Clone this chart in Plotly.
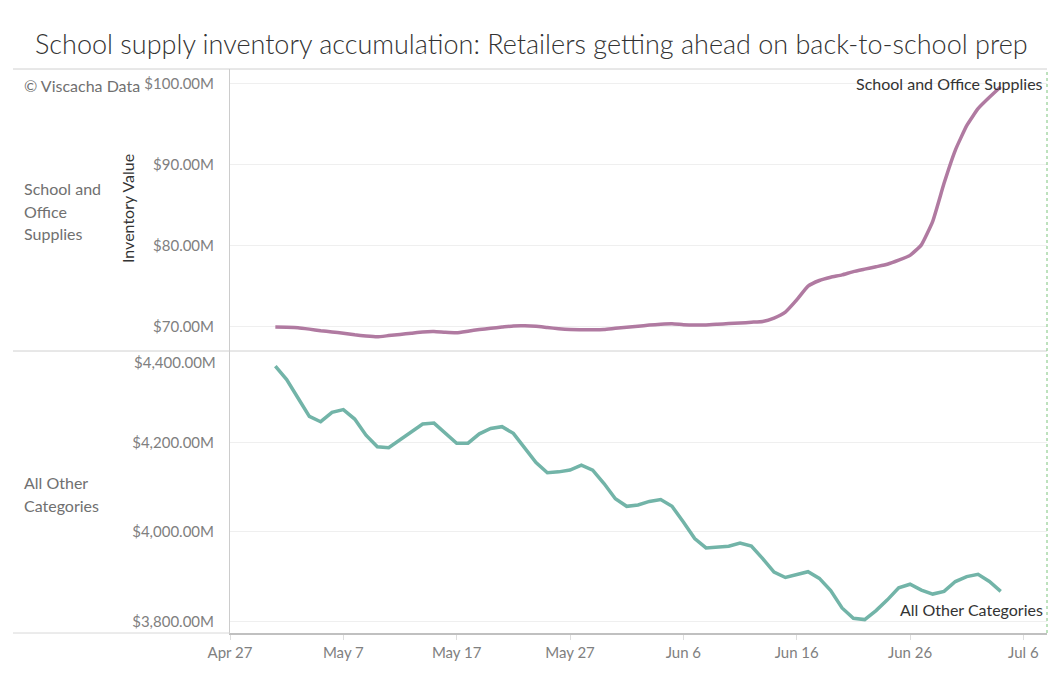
import pandas as pd
import plotly.graph_objects as go
from plotly.subplots import make_subplots

# 日次データ (May 1 - Jul 4), 単位: 百万ドル
start_date = "2025-05-01"
end_date = "2025-07-04"
school_office = [
    69.95, 69.93, 69.88, 69.70, 69.50, 69.35, 69.20, 69.00, 68.85, 68.75,
    68.90, 69.05, 69.20, 69.35, 69.40, 69.30, 69.25, 69.45, 69.65, 69.80,
    69.95, 70.10, 70.12, 70.05, 69.90, 69.75, 69.65, 69.63, 69.62, 69.65,
    69.80, 69.92, 70.05, 70.20, 70.30, 70.35, 70.25, 70.20, 70.22, 70.30,
    70.38, 70.45, 70.55, 70.65, 71.07, 71.80, 73.30, 75.00, 75.70, 76.10,
    76.40, 76.80, 77.10, 77.40, 77.70, 78.20, 78.80, 80.10, 83.00, 87.70,
    91.80, 94.80, 96.90, 98.30, 99.60,
]
all_other = [
    4370, 4340, 4299, 4258, 4246, 4267, 4273, 4252, 4216, 4190,
    4188, 4205, 4224, 4241, 4243, 4220, 4198, 4198, 4219, 4231,
    4235, 4220, 4187, 4155, 4132, 4134, 4138, 4149, 4138, 4108,
    4074, 4057, 4060, 4068, 4072, 4057, 4022, 3985, 3964, 3966,
    3968, 3975, 3968, 3940, 3910, 3898, 3904, 3911, 3896, 3869,
    3830, 3807, 3804, 3824, 3848, 3875, 3883, 3870, 3861, 3867,
    3889, 3900, 3905, 3889, 3867,
]
top_ticks = [70, 80, 90, 100]
bottom_ticks = [3800, 4000, 4200, 4400]
x_range = ["2025-04-27", "2025-07-08 02:00"]
header_top = ["School and", "Office", "Supplies"]
header_bottom = ["All Other", "Categories"]
series_names = ["School and Office Supplies", "All Other Categories"]

PURPLE = "#B07AA1"
TEAL = "#72B4A8"
FONT = "Lato"

# ページ(body)の余白8pxを考慮して配置
W, H = 1061, 686
OFF = 8
L, R, T, B = 230, 14, 69, 53
PW, PH = W - L - R, H - T - B


def px_x(x):
    # 画面ピクセル -> paper座標 (横)
    return (x - L) / PW


def px_y(y):
    # 画面ピクセル -> paper座標 (縦)
    return (H - B - y) / PH


def money(v):
    return "${:,.2f}M".format(v)


dates = pd.date_range(start_date, end_date, freq="D")

fig = make_subplots(rows=2, cols=1, shared_xaxes=True, vertical_spacing=0)
fig.add_trace(go.Scatter(
    x=dates, y=school_office, mode="lines", name=series_names[0],
    line=dict(color=PURPLE, width=3.5, shape="spline", smoothing=0.4),
), row=1, col=1)
fig.add_trace(go.Scatter(
    x=dates, y=all_other, mode="lines", name=series_names[1],
    line=dict(color=TEAL, width=3.5),
), row=2, col=1)

tick_font = dict(family=FONT, size=15, color="#808080")

fig.update_xaxes(
    range=x_range, type="date",
    tick0="2025-04-27", dtick=10 * 86400000, tickformat="%b %-d",
    showgrid=False, zeroline=False, tickfont=tick_font,
)
fig.update_xaxes(showticklabels=False, ticks="", showline=False, row=1, col=1)
fig.update_xaxes(
    ticks="outside", ticklen=5, tickcolor="#dddddd",
    showline=True, linecolor="#c0c0c0", linewidth=2, row=2, col=1,
)

fig.update_yaxes(
    range=[67.0, 101.8], tickvals=top_ticks,
    ticktext=[money(v) for v in top_ticks],
    row=1, col=1,
)
fig.update_yaxes(
    range=[3774, 4404], tickvals=bottom_ticks[:-1],
    ticktext=[money(v) for v in bottom_ticks[:-1]],
    row=2, col=1,
)
fig.update_yaxes(
    showgrid=True, gridcolor="#efefef", gridwidth=1, zeroline=False,
    showline=True, linecolor="#cccccc", linewidth=1,
    ticks="", ticklabelstandoff=12, tickfont=tick_font,
)

annotations = []
# 下段の一番上のラベルは枠内に収めるため少し下げる
annotations.append(dict(
    x=0, xref="paper", y=bottom_ticks[-1], yref="y2",
    text=money(bottom_ticks[-1]), showarrow=False,
    xanchor="right", yanchor="middle", xshift=-12, yshift=-9,
    font=tick_font,
))
annotations.append(dict(
    x=px_x(22), xref="paper", y=px_y(85), yref="paper",
    text="© Viscacha Data", showarrow=False,
    xanchor="left", yanchor="middle",
    font=dict(family=FONT, size=16, color="#707070"),
))
for lines, center in [(header_top, 211), (header_bottom, 494)]:
    for i, line in enumerate(lines):
        y = center + (i - (len(lines) - 1) / 2) * 23
        annotations.append(dict(
            x=px_x(22), xref="paper", y=px_y(y), yref="paper",
            text=line, showarrow=False, xanchor="left", yanchor="middle",
            font=dict(family=FONT, size=16, color="#707070"),
        ))
annotations.append(dict(
    x=px_x(127), xref="paper", y=px_y(209), yref="paper",
    text="Inventory Value", textangle=-90, showarrow=False,
    xanchor="center", yanchor="middle",
    font=dict(family=FONT, size=16, color="#333333"),
))
annotations.append(dict(
    x=dates[-1], xref="x", y=school_office[-1], yref="y",
    text=series_names[0], showarrow=False,
    xanchor="right", yanchor="middle", xshift=44, yshift=3,
    font=dict(family=FONT, size=16, color="#333333"),
))
annotations.append(dict(
    x=dates[-1], xref="x2", y=all_other[-1], yref="y2",
    text=series_names[1], showarrow=False,
    xanchor="right", yanchor="middle", xshift=44, yshift=-18,
    font=dict(family=FONT, size=16, color="#333333"),
))
annotations.append(dict(
    x=px_x(531.5), xref="paper", y=px_y(44), yref="paper",
    text="School supply inventory accumulation: Retailers getting ahead on back-to-school prep",
    showarrow=False, xanchor="center", yanchor="middle",
    font=dict(family=FONT, size=27, color="#333333", weight=300),
))

shapes = [
    dict(type="line", xref="paper", yref="paper", x0=px_x(13), x1=1, y0=1, y1=1,
         line=dict(color="#d0d0d0", width=1)),
    dict(type="line", xref="paper", yref="paper", x0=px_x(13), x1=1, y0=0.5, y1=0.5,
         line=dict(color="#d0d0d0", width=1)),
    dict(type="line", xref="paper", yref="paper", x0=px_x(13), x1=0, y0=0, y1=0,
         line=dict(color="#d8d8d8", width=1)),
    dict(type="line", xref="paper", yref="paper", x0=1, x1=1, y0=0, y1=1,
         line=dict(color="#7cc47c", width=1, dash="dot")),
]

fig.update_layout(
    width=W - OFF, height=H - OFF,
    margin=dict(l=L - OFF, r=R, t=T - OFF, b=B, autoexpand=False),
    paper_bgcolor="white", plot_bgcolor="white",
    showlegend=False,
    font=dict(family=FONT, size=14, color="#333333"),
    annotations=annotations,
    shapes=shapes,
)

fig.write_html("out.html")
